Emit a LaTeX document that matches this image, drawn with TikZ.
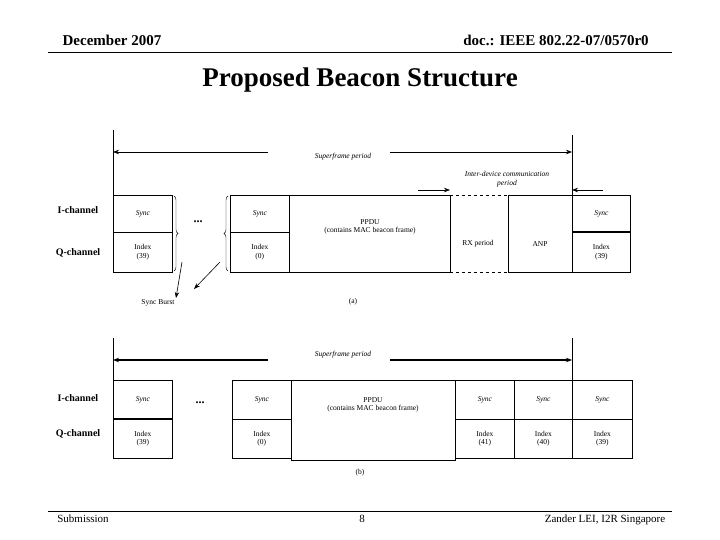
\documentclass[tikz,border=0pt]{standalone}
\usepackage{fontspec}
\setmainfont{Liberation Serif}
\usetikzlibrary{decorations.pathreplacing,arrows.meta}
\begin{document}
\begin{tikzpicture}[x=1pt,y=-1pt,
  lbl/.style={font=\fontsize{7.5}{8.5}\selectfont,align=center,inner sep=0},
  ilbl/.style={font=\fontsize{7.5}{8.5}\selectfont\itshape,inner sep=0},
  ch/.style={font=\fontsize{10}{11}\selectfont\bfseries,inner sep=0},
  bx/.style={draw,line width=0.7pt},
  ft/.style={font=\fontsize{11}{12}\selectfont,anchor=base},
  arr/.style={-{Stealth[length=6pt]},line width=0.6pt}]
\useasboundingbox (0,0) rectangle (720,540);
% header
\node[font=\fontsize{15}{17}\selectfont\bfseries] (hd) at (112,40) {December 2007};
\node[font=\fontsize{15}{17}\selectfont\bfseries] (hdoc) at (556,40) {doc.: IEEE 802.22-07/0570r0};
\draw[line width=0.8pt] (48,52) -- (672,52);
\node[font=\fontsize{27}{30}\selectfont\bfseries] (title) at (360,80) {Proposed Beacon Structure};
% footer
\draw[line width=0.6pt] (48,511) -- (672,511);
\node[ft] (f1) at (83,522) {Submission};
\node[ft] (f2) at (362,522) {8};
\node[ft] (f3) at (605,522) {Zander LEI, I2R Singapore};

% ---- (a)
\draw (113,130) -- (113,195);
\draw (572,135) -- (572,195);
\coordinate (sl) at (113,152); \coordinate (sr) at (572,152);
\draw[arr] (268,152) -- (sl);
\draw[arr] (390,152) -- (sr);
\node[ilbl] (sp) at (343,157) {Superframe period};
\coordinate (il) at (450,190); \coordinate (ir) at (572,190);
\draw[arr] (418,190) -- (il);
\draw[arr] (603,190) -- (ir);
\node[lbl,font=\fontsize{7.5}{8.5}\selectfont\itshape] (idc) at (507,179) {Inter-device communication\\period};
\node[ch] (ich) at (78,210) {I-channel};
\node[ch] (qch) at (78,253) {Q-channel};
\node[bx,minimum width=59,minimum height=37,anchor=north west,ilbl] (a1s) at (113,195) {Sync};
\node[bx,minimum width=59,minimum height=40,anchor=north west,lbl] (a1i) at (113,232) {Index\\(39)};
\node[font=\bfseries\fontsize{12}{12}\selectfont] (ad) at (198,222) {...};
\node[bx,minimum width=59,minimum height=37,anchor=north west,ilbl] (a2s) at (230,195) {Sync};
\node[bx,minimum width=59,minimum height=40,anchor=north west,lbl] (a2i) at (230,232) {Index\\(0)};
\node[bx,minimum width=161,minimum height=77,anchor=north west,lbl] (appdu) at (289,195) {};
\node[lbl] (appt) at (370,227) {PPDU\\(contains MAC beacon frame)};
\draw[dashed,line width=0.7pt] (450,195) -- (508,195) (450,195) -- (450,272) (450,272) -- (508,272);
\node[lbl] (rx) at (478,244) {RX period};
\node[bx,minimum width=64,minimum height=77,anchor=north west,lbl] (anp) at (508,195) {};
\node[lbl] (anpt) at (540,244) {ANP};
\node[bx,minimum width=58,minimum height=37,anchor=north west,ilbl] (a3s) at (572,195) {Sync};
\node[bx,minimum width=58,minimum height=40,anchor=north west,lbl] (a3i) at (572,232) {Index\\(39)};
\draw[line width=1.5pt] (572,232) -- (630,232);
\draw[decorate,decoration={brace,amplitude=4pt}] (174,196) -- (174,271);
\draw[decorate,decoration={brace,amplitude=4pt}] (228,271) -- (228,196);
\node[lbl] (sb) at (158,303) {Sync Burst};
\coordinate (b1) at (182,262); \coordinate (b2) at (220,262);
\coordinate (e1) at (176,298); \coordinate (e2) at (194,289);
\draw[arr] (b1) -- (e1);
\draw[arr] (b2) -- (e2);
\node[lbl] (la) at (353,302) {(a)};

% ---- (b)
\draw (113,338) -- (113,380);
\draw (572,338) -- (572,380);
\coordinate (tl) at (113,360); \coordinate (tr) at (572,360);
\draw[arr,line width=1.2pt] (268,360) -- (tl);
\draw[arr,line width=1.2pt] (390,360) -- (tr);
\node[ilbl] (sp2) at (343,355) {Superframe period};
\node[ch] (ich2) at (78,398) {I-channel};
\node[ch] (qch2) at (78,434) {Q-channel};
\node[bx,minimum width=59,minimum height=39,anchor=north west,ilbl] (b1s) at (113,380) {Sync};
\node[bx,minimum width=59,minimum height=39,anchor=north west,lbl] (b1i) at (113,419) {Index\\(39)};
\draw[line width=1.5pt] (113,419) -- (172,419);
\node[font=\bfseries\fontsize{12}{12}\selectfont] (bd) at (200,403) {...};
\node[bx,minimum width=59,minimum height=39,anchor=north west,ilbl] (b2s) at (232,380) {Sync};
\node[bx,minimum width=59,minimum height=39,anchor=north west,lbl] (b2i) at (232,419) {Index\\(0)};
\node[bx,minimum width=164,minimum height=80,anchor=north west] (bppdu) at (291,380) {};
\node[lbl] (bppt) at (373,405) {PPDU\\(contains MAC beacon frame)};
\node[bx,minimum width=59,minimum height=39,anchor=north west,ilbl] (b3s) at (455,380) {Sync};
\node[bx,minimum width=59,minimum height=39,anchor=north west,lbl] (b3i) at (455,419) {Index\\(41)};
\node[bx,minimum width=58,minimum height=39,anchor=north west,ilbl] (b4s) at (514,380) {Sync};
\node[bx,minimum width=58,minimum height=39,anchor=north west,lbl] (b4i) at (514,419) {Index\\(40)};
\node[bx,minimum width=60,minimum height=39,anchor=north west,ilbl] (b5s) at (572,380) {Sync};
\node[bx,minimum width=60,minimum height=39,anchor=north west,lbl] (b5i) at (572,419) {Index\\(39)};
\node[lbl] (lb) at (360,473) {(b)};
\end{tikzpicture}
\end{document}
